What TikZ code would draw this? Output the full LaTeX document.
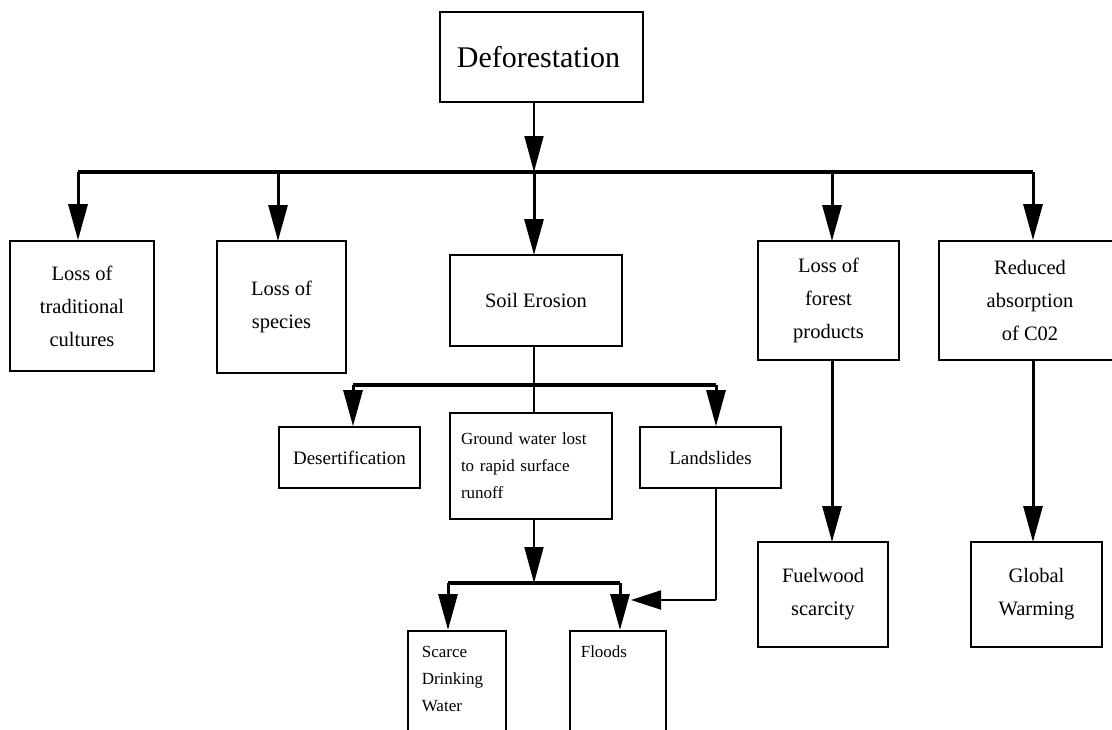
\documentclass[tikz,border=0pt]{standalone}
\usepackage{fontspec}
\setmainfont{Liberation Serif}
\usetikzlibrary{arrows.meta}
\begin{document}
\begin{tikzpicture}[x=1pt,y=-1pt,
  box/.style={draw,line width=1.6pt,inner sep=0pt,align=center,font=\fontsize{20.5}{33}\selectfont},
  subbox/.style={box,font=\fontsize{19}{24}\selectfont},
  smallbox/.style={box,font=\fontsize{17}{27}\selectfont},
  arr/.style={-{Triangle[length=36pt,width=19pt]}},
  bar/.style={line width=4pt},
  thickline/.style={line width=3pt},
  thinline/.style={line width=1.8pt}]
\useasboundingbox (0,0) rectangle (1112,729);
\clip (0,0) rectangle (1112,729);

% top
\node[box,minimum width=203,minimum height=90,font=\fontsize{30}{34}\selectfont] (def) at (541.5,57) {Deforestation\hspace*{6pt}};

% level 1
\node[box,minimum width=144,minimum height=130] (ltc) at (82,306) {Loss of\\traditional\\cultures};
\node[box,minimum width=129,minimum height=132] (los) at (281.5,307) {Loss of\\species};
\node[box,minimum width=172,minimum height=91] (soil) at (536,300.5) {Soil Erosion};
\node[box,minimum width=141,minimum height=119] (lfp) at (828.5,300.5) {Loss of\\forest\\products};
\node[box,minimum width=182,minimum height=119] (rac) at (1030,300.5) {Reduced\\absorption\\of C02};

% level 2
\node[subbox,minimum width=141,minimum height=61] (des) at (349.5,457.5) {Desertification};
\node[smallbox,minimum width=162,minimum height=106,align=left,text width=140pt,inner xsep=11pt] (gw) at (531,466) {Ground water lost\\to rapid surface\\runoff};
\node[subbox,minimum width=141,minimum height=61] (land) at (710.5,457.5) {Landslides};
\node[box,minimum width=130,minimum height=105] (fuel) at (823,594.5) {Fuelwood\\scarcity};
\node[box,minimum width=131,minimum height=105] (glob) at (1036.5,594.5) {Global\\Warming};

% level 3 (cut at bottom)
\node[smallbox,anchor=north west,minimum width=98,minimum height=140,inner sep=0pt] (scarce) at (407,630)
  {\parbox[t][140pt][t]{98pt}{\vspace{15pt}\hspace*{14pt}\parbox[t]{80pt}{\raggedright Scarce\\Drinking\\Water}}};
\node[smallbox,anchor=north west,minimum width=96,minimum height=140,inner sep=0pt] (flood) at (569,630)
  {\parbox[t][140pt][t]{96pt}{\vspace{15pt}\hspace*{11pt}Floods}};

% main bar
\coordinate (dtop) at (534,102);
\coordinate (b0) at (534,172);
\coordinate (bL) at (78,172);
\coordinate (bR) at (1033,172);
\draw[thinline,arr] (dtop) -- (b0);
\draw[bar] (bL) -- (bR);
\draw[thickline,arr] (bL) -- (bL |- ltc.north);
\draw[thickline,arr] (278,172) -- (278,241);
\draw[thickline,arr] (534,172) -- (534,255);
\draw[thickline,arr] (832,172) -- (832,241);
\draw[thickline,arr] (bR) -- (bR |- rac.north);

% soil erosion sub bar
\coordinate (sL) at (353,385);
\coordinate (sR) at (716,385);
\draw[bar] (sL) -- (sR);
\draw[thinline] (534,346) -- (534,413);
\draw[thickline,arr] (sL) -- (sL |- des.north);
\draw[thickline,arr] (sR) -- (sR |- land.north);

% forest products / CO2
\draw[thickline,arr] (832,360) -- (832,542);
\draw[thickline,arr] (1033,360) -- (1033,542);

% groundwater sub bar
\coordinate (gL) at (448,583);
\coordinate (gR) at (620,583);
\coordinate (gM) at (534,583);
\draw[thinline,arr] (534,519) -- (gM);
\draw[bar] (gL) -- (gR);
\draw[thickline,arr] (gL) -- (gL |- scarce.north);
\draw[thickline,arr] (gR) -- (gR |- flood.north);

% landslides to floods
\coordinate (lc) at (716,600);
\coordinate (lt) at (631,600);
\draw[thinline] (716,488) -- (lc);
\draw[thinline,-{Triangle[length=30pt,width=19pt]}] (lc) -- (lt);
\end{tikzpicture}
\end{document}
